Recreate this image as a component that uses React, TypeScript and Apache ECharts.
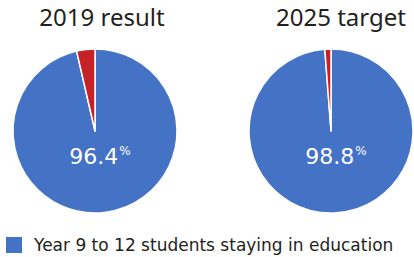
import React, { useEffect, useRef } from "react";
import * as echarts from "echarts";

const titles = ["2019 result", "2025 target"];
const stayingValues = [96.4, 98.8];
const otherValues = [3.6, 1.2];
const legendLabel = "Year 9 to 12 students staying in education";

const BLUE = "#4472C4";
const RED = "#C52127";
const FONT = "'Noto Sans', sans-serif";
const WIDE = "'DejaVu Sans', sans-serif";

export default function App() {
  const ref = useRef<HTMLDivElement>(null);
  useEffect(() => {
    const chart = echarts.init(ref.current!, null, { renderer: "svg" });
    const centers = [[95, 131], [331, 131]];
    const titleX = [97, 336];
    const series: any[] = titles.map((t, i) => ({
      type: "pie",
      name: t,
      center: centers[i],
      radius: 82,
      startAngle: 90,
      clockwise: true,
      label: { show: false },
      labelLine: { show: false },
      emphasis: { disabled: true },
      itemStyle: { borderColor: "#fff", borderWidth: 1.5 },
      data: [
        { name: legendLabel, value: stayingValues[i], itemStyle: { color: BLUE } },
        { name: "Other", value: otherValues[i], itemStyle: { color: RED } },
      ],
    }));
    const title: any[] = titles.map((t, i) => ({
      text: t,
      left: titleX[i],
      top: -1,
      textAlign: "center",
      textStyle: { fontFamily: FONT, fontSize: 24, fontWeight: "normal", color: "#231F20" },
    }));
    const graphics: any[] = stayingValues.map((v, i) => ({
      type: "text",
      z: 100,
      zlevel: 1,
      x: centers[i][0] + 5,
      y: 156,
      style: {
        text: `{n|${v.toFixed(1)}}{p|%}`,
        align: "center",
        verticalAlign: "middle",
        rich: {
          n: { fontFamily: WIDE, fontSize: 22, fill: "#fff" },
          p: { fontFamily: WIDE, fontSize: 12, fill: "#fff", verticalAlign: "top", padding: [0, 0, 10, 1] },
        },
      },
    }));
    chart.setOption({
      animation: false,
      title,
      legend: {
        data: [legendLabel],
        left: 4,
        top: 235,
        padding: 0,
        icon: "rect",
        itemWidth: 18,
        itemHeight: 18,
        itemGap: 10,
        selectedMode: false,
        textStyle: { fontFamily: WIDE, fontSize: 17, color: "#231F20", padding: [0, 0, 0, 6] },
      },
      series,
      graphic: graphics,
    });
    return () => chart.dispose();
  }, []);
  return <div ref={ref} style={{ width: 414, height: 257, position: "absolute", left: 0, top: 0 }} />;
}
